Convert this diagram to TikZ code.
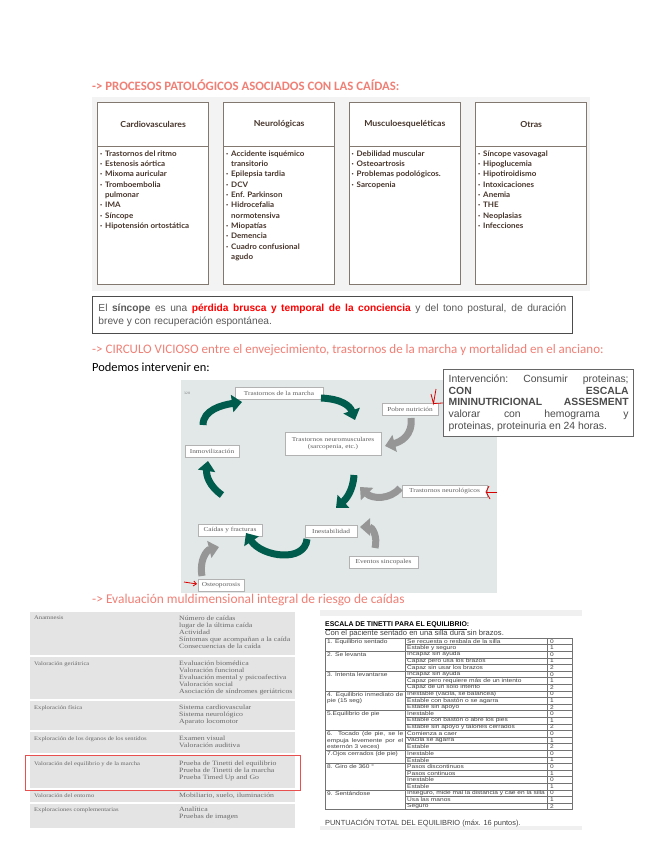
\documentclass[tikz,border=0pt]{standalone}
\usepackage{fontspec}
\setmainfont{Carlito}
\newfontfamily\gillfont[FakeStretch=1.05]{Lato}
\newfontfamily\arialfont{Liberation Sans}
\newfontfamily\arialwide[FakeStretch=1.22]{Liberation Sans}
\newfontfamily\serifwide[FakeStretch=1.2]{Liberation Serif}
\usetikzlibrary{arrows.meta, positioning, calc}

\definecolor{salmon}{RGB}{240,128,118}
\definecolor{brownT}{RGB}{70,52,42}
\definecolor{boxline}{RGB}{130,120,112}
\definecolor{pgray}{RGB}{243,243,243}
\definecolor{cblue}{RGB}{226,232,232}
\definecolor{cgreen}{RGB}{0,92,76}
\definecolor{agray}{RGB}{150,150,150}
\definecolor{tgray}{RGB}{95,95,95}
\definecolor{tblbg}{RGB}{228,228,228}
\definecolor{ltext}{RGB}{105,105,105}
\definecolor{redbox}{RGB}{232,80,80}

\newcommand{\bu}{\makebox[5pt][l]{·}}
\newcommand{\cn}{\hspace*{5pt}}

\tikzset{
  colbox/.style={draw=boxline, line width=0.6pt, fill=white},
  colhead/.style={font=\gillfont\bfseries\fontsize{8.3}{9}\selectfont, text=brownT},
  collist/.style={font=\gillfont\bfseries\fontsize{7.6}{10.3}\selectfont, text=brownT, align=left, inner sep=0pt, anchor=north west},
  heading/.style={font=\fontsize{13}{14}\selectfont, text=salmon, anchor=west, inner sep=0pt},
  cnode/.style={draw=gray!60, fill=white, font=\serifwide\fontsize{6.1}{7}\selectfont, text=tgray, inner sep=1pt, minimum height=12pt, align=center},
  garrow/.style={line width=7pt, draw=cgreen, -{Triangle[length=10pt,width=17pt]}},
  harrow/.style={line width=7pt, draw=agray, -{Triangle[length=10pt,width=17pt]}},
  redmark/.style={draw=red!85!black, line width=0.8pt},
  tleft/.style={font=\serifwide\fontsize{5.5}{6.9}\selectfont, text=ltext, align=left, inner sep=0pt, anchor=north west},
  tright/.style={font=\serifwide\fontsize{6.5}{6.9}\selectfont, text=ltext, align=left, inner sep=0pt, anchor=north west},
  tcell/.style={font=\arialwide\fontsize{5.4}{6.6}\selectfont, text=black!75, inner sep=0pt},
  tgrid/.style={draw=black!55, line width=0.35pt}
}

\begin{document}
\begin{tikzpicture}[x=1pt, y=-1pt, >=Stealth]
  \useasboundingbox (0,0) rectangle (655,848);
  \fill[white] (0,0) rectangle (655,848);

  % Procesos patologicos
  \node[heading, font=\bfseries\fontsize{12.8}{14}\selectfont] (h1) at (92,85) {-> PROCESOS PATOLÓGICOS ASOCIADOS CON LAS CAÍDAS:};
  \fill[pgray] (92,97) rectangle (590,291);
  \foreach \n/\x/\head in {cv/97.7/Cardiovasculares, ne/223.7/Neurológicas, mu/349.3/Musculoesqueléticas, ot/475.7/Otras} {
    \draw[colbox] (\x,102.3) rectangle ++(111,44.4);
    \draw[colbox] (\x,146.7) rectangle ++(111,137.6);
    \node[colhead] (h\n) at (\x+55.5,124.5) {\head};
  }
  \node[collist] (lcv) at (100,150.5) {\bu Trastornos del ritmo\\ \bu Estenosis aórtica\\ \bu Mixoma auricular\\ \bu Tromboembolia\\ \cn pulmonar\\ \bu IMA\\ \bu Síncope\\ \bu Hipotensión ortostática};
  \node[collist] (lne) at (226,150.5) {\bu Accidente isquémico\\ \cn transitorio\\ \bu Epilepsia tardia\\ \bu DCV\\ \bu Enf. Parkinson\\ \bu Hidrocefalia\\ \cn normotensiva\\ \bu Miopatías\\ \bu Demencia\\ \bu Cuadro confusional\\ \cn agudo};
  \node[collist] (lmu) at (351.5,150.5) {\bu Debilidad muscular\\ \bu Osteoartrosis\\ \bu Problemas podológicos.\\ \bu Sarcopenia};
  \node[collist] (lot) at (478,150.5) {\bu Síncope vasovagal\\ \bu Hipoglucemia\\ \bu Hipotiroidismo\\ \bu Intoxicaciones\\ \bu Anemia\\ \bu THE\\ \bu Neoplasias\\ \bu Infecciones};

  % Sincope
  \node[draw=black!70, line width=0.9pt, text width=468pt, minimum height=37pt, inner xsep=6pt, inner ysep=4pt, anchor=north west, align=justify, font=\arialfont\fontsize{10.2}{13}\selectfont, text=black!65] (sinc) at (92,296)
    {El \textbf{síncope} es una \textcolor{red}{\textbf{pérdida brusca y temporal de la conciencia}} y del tono postural, de duración\linebreak breve y con recuperación espontánea.};

  % Circulo vicioso
  \node[heading] (h2) at (92,350) {-> CIRCULO VICIOSO entre el envejecimiento, trastornos de la marcha y mortalidad en el anciano:};
  \node[anchor=west, inner sep=0pt, font=\fontsize{12.4}{14}\selectfont] (podemos) at (92,367) {Podemos intervenir en:};
  \fill[cblue] (181,380) rectangle (497,593);
  \node[font=\serifwide\fontsize{3.5}{4}\selectfont, text=gray] (pg) at (187,393) {320};

  \node[cnode, minimum width=88pt] (marcha) at (279,393.5) {Trastornos de la marcha};
  \node[cnode, minimum width=56pt] (nutri) at (410,409.5) {Pobre nutrición};
  \node[cnode, minimum width=96pt, minimum height=23pt] (neuro) at (333,443.5) {Trastornos neuromusculares\\(sarcopenia, etc.)};
  \node[cnode, minimum width=54pt] (inmov) at (212,451) {Inmovilización};
  \node[cnode, minimum width=85pt] (neurol) at (444.5,491) {Trastornos neurológicos};
  \node[cnode, minimum width=64pt] (caidas) at (230,530.5) {Caídas y fracturas};
  \node[cnode, minimum width=52pt] (inest) at (331,531.5) {Inestabilidad};
  \node[cnode, minimum width=69pt] (event) at (383.5,562.5) {Eventos sincopales};
  \node[cnode, minimum width=46pt] (osteo) at (221,585) {Osteoporosis};

  % block arrows
  \draw[garrow] (203,425) .. controls (203,410) and (222,405) .. (242,402);
  \draw[garrow] (321,398) .. controls (342,399) and (350,406) .. (355,420);
  \draw[harrow] (411,418) .. controls (413,436) and (400,442) .. (385,446);
  \draw[garrow] (354,475) .. controls (353,491) and (346,499) .. (336,508);
  \draw[harrow] (400,488) .. controls (390,500) and (372,499) .. (360,487);
  \draw[harrow] (375,548) .. controls (378,536) and (372,527) .. (360,527);
  \draw[garrow] (307,539) .. controls (305,563) and (262,557) .. (246,533);
  \draw[harrow] (202,576) .. controls (199,560) and (207,550) .. (219,547);
  \draw[garrow] (222,495) .. controls (209,486) and (206,475) .. (208,461);

  % red marks
  \draw[redmark] (431,394) -- (433.5,403.5) -- (436,389);
  \draw[redmark] (433.5,403.5) -- (443,403);
  \draw[redmark] (489,486) -- (486,492) -- (490,499);
  \draw[redmark] (486,492) -- (497,492);
  \draw[redmark, -{Straight Barb[length=3pt,width=5pt]}] (184,582) -- (197,584);

  % Intervencion
  \node[draw=black!60, line width=1.3pt, fill=white, text width=180pt, inner xsep=5pt, inner ysep=5pt, anchor=north west, align=justify, font=\arialfont\fontsize{10.4}{11.7}\selectfont, text=black!70] (interv) at (443,369)
    {Intervención:~Consumir proteinas;\linebreak \textbf{CON ESCALA\linebreak MININUTRICIONAL ASSESMENT}\linebreak valorar con hemograma y\linebreak proteinas, proteinuria en 24 horas.};

  % Evaluacion multidimensional
  \node[heading, font=\fontsize{13.4}{15}\selectfont] (h3) at (92,600) {-> Evaluación muldimensional integral de riesgo de caídas};
  \fill[tblbg] (30,612) rectangle (295,828);
  \foreach \yy in {656,700,731,754,789,803}
    \draw[white, line width=1.2pt] (30,\yy) -- (295,\yy);
  \foreach \i/\yy/\lab/\items in {
      an/616/Anamnesis/{Número de caídas\\lugar de la última caída\\Actividad\\Síntomas que acompañan a la caída\\Consecuencias de la caída},
      vg/661/Valoración geriátrica/{Evaluación biomédica\\Valoración funcional\\Evaluación mental y psicoafectiva\\Valoración social\\Asociación de síndromes geriátricos},
      ef/705/Exploración física/{Sistema cardiovascular\\Sistema neurológico\\Aparato locomotor},
      eo/736/Exploración de los órganos de los sentidos/{Examen visual\\Valoración auditiva},
      ve/761/Valoración del equilibrio y de la marcha/{Prueba de Tinetti del equilibrio\\Prueba de Tinetti de la marcha\\Prueba Timed Up and Go},
      en/793/Valoración del entorno/{Mobiliario, suelo, iluminación},
      ec/807/Exploraciones complementarias/{Analítica\\Pruebas de imagen}} {
    \node[tleft] (r\i) at (34,\yy) {\lab};
    \node[tright] (v\i) at (179,\yy) {\items};
  }
  \draw[redbox, line width=0.9pt] (25,755) rectangle (300,790);

  % Tinetti
  \fill[black!6] (320,610) rectangle (582,616);
  \fill[black!6] (320,826) rectangle (582,830);
  \node[anchor=west, inner sep=0pt, font=\arialfont\bfseries\fontsize{6.9}{7}\selectfont] (ttitle) at (325,626) {\underline{ESCALA DE TINETTI PARA EL EQUILIBRIO}:};
  \node[anchor=west, inner sep=0pt, font=\arialfont\fontsize{7.6}{8}\selectfont, text=black!75] (tsub) at (325,634) {Con el paciente sentado en una silla dura sin brazos.};
  \draw[tgrid] (325,638) rectangle (572,809.6);
  \draw[tgrid] (405,638) -- (405,809.6);
  \draw[tgrid] (547,638) -- (547,809.6);
  \foreach \r in {1,...,25}
    \draw[tgrid] (405,{638+\r*6.6}) -- (572,{638+\r*6.6});
  \foreach \r in {2,5,8,11,14,17,19,23}
    \draw[tgrid] (325,{638+\r*6.6}) -- (405,{638+\r*6.6});
  \foreach \g/\r/\lab in {1/0/{1. Equilibrio sentado}, 2/2/{2. Se levanta}, 3/5/{3. Intenta levantarse},
      4/8/{4. Equilibrio inmediato de\linebreak pie (15 seg)}, 5/11/{5.Equilibrio de pie},
      6/14/{6. Tocado (de pie, se le\linebreak empuja levemente por el\linebreak esternón 3 veces)},
      7/17/{7.Ojos cerrados (de pie)}, 8/19/{8. Giro de 360 °}, 9/23/{9. Sentándose}}
    \node[tcell, anchor=north west, text width=76pt, align=justify] (g\g) at (327,{638+\r*6.6+1.2}) {\lab};
  \foreach \t/\s [count=\r from 0] in {Se recuesta o resbala de la silla/0, Estable y seguro/1,
      Incapaz sin ayuda/0, Capaz pero usa los brazos/1, Capaz sin usar los brazos/2,
      Incapaz sin ayuda/0, Capaz pero requiere más de un intento/1, Capaz de un solo intento/2,
      {Inestable (vacila, se balancea)}/0, Estable con bastón o se agarra/1, Estable sin apoyo/2,
      Inestable/0, Estable con bastón o abre los pies/1, Estable sin apoyo y talones cerrados/2,
      Comienza a caer/0, Vacila se agarra/1, Estable/2,
      Inestable/0, Estable/1,
      Pasos discontinuos/0, Pasos continuos/1, Inestable/0, Estable/1,
      {Inseguro, mide mal la distancia y cae en la silla}/0, Usa las manos/1, Seguro/2} {
    \node[tcell, anchor=west] (it\r) at (407,{638+(\r+0.5)*6.6}) {\t};
    \node[tcell, anchor=west] (sc\r) at (550,{638+(\r+0.5)*6.6}) {\s};
  }
  \node[anchor=west, inner sep=0pt, font=\arialfont\fontsize{7.4}{8}\selectfont, text=black!75] (ttotal) at (325,823) {PUNTUACIÓN TOTAL DEL EQUILIBRIO (máx. 16 puntos).};
\end{tikzpicture}
\end{document}
